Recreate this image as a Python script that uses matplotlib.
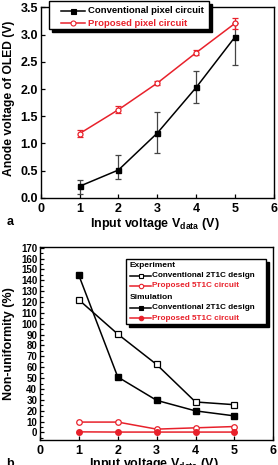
import matplotlib
matplotlib.use('Agg')
import matplotlib.pyplot as plt
from matplotlib.lines import Line2D
from matplotlib.patches import Rectangle
from matplotlib.transforms import Affine2D
from matplotlib.ticker import MultipleLocator, FormatStrFormatter

# ---- data ----
vdata = [1, 2, 3, 4, 5]

# (a) anode voltage of OLED
conv_anode = [0.21, 0.51, 1.19, 2.03, 2.96]
conv_err_low = [0.15, 0.17, 0.37, 0.28, 0.51]
conv_err_high = [0.11, 0.27, 0.38, 0.31, 0.25]
prop_anode = [1.18, 1.62, 2.11, 2.67, 3.21]
prop_err = [0.06, 0.07, 0.03, 0.05, 0.10]

# (b) non-uniformity (%)
exp_conv = [122, 90.5, 62.5, 28, 25.5]
exp_prop = [9.5, 9.5, 3, 4.2, 5.4]
sim_conv = [144.5, 51, 29.5, 19.8, 15.2]
sim_prop = [0.5, 0.3, 0.3, 0.3, 0.3]

RED = '#e8212b'
W, H = 278, 465

plt.rcParams['font.family'] = 'Liberation Sans'
plt.rcParams['font.weight'] = 'bold'
plt.rcParams['mathtext.fontset'] = 'custom'
plt.rcParams['mathtext.rm'] = 'Liberation Sans:bold'
plt.rcParams['mathtext.bf'] = 'Liberation Sans:bold'
plt.rcParams['mathtext.default'] = 'rm'

fig = plt.figure(figsize=(W / 100, H / 100), dpi=100)
# pixel transform (origin top-left) for the hand-made legends
tpx = Affine2D().scale(1 / W, -1 / H).translate(0, 1) + fig.transFigure


def style_axes(ax, ysize, xpad):
    for s in ax.spines.values():
        s.set_linewidth(1.0)
    ax.tick_params(direction='in', length=3, width=0.9, labelsize=9)
    ax.tick_params(axis='x', pad=xpad)
    ax.tick_params(axis='y', labelsize=ysize, pad=2)
    ax.tick_params(which='minor', direction='in', length=1.8, width=0.8)


def draw_legend(ax, box, rows, row_y, hx, tx, fs, hfs, ms):
    x0, y0, x1, y1 = box
    ax.add_patch(Rectangle((x0 + 3, y0 + 3), x1 - x0, y1 - y0, transform=tpx,
                           facecolor='black', edgecolor='black', clip_on=False, zorder=5))
    ax.add_patch(Rectangle((x0, y0), x1 - x0, y1 - y0, transform=tpx, facecolor='white',
                           edgecolor='black', lw=1.0, clip_on=False, zorder=6))
    for (label, st), yy in zip(rows, row_y):
        if st is None:
            ax.text(hx[0], yy, label, transform=tpx, fontsize=hfs, fontweight='bold',
                    ha='left', va='center', zorder=7, clip_on=False)
            continue
        ax.add_line(Line2D(hx, [yy, yy], transform=tpx, color=st['color'], lw=1.1,
                           clip_on=False, zorder=7))
        ax.add_line(Line2D([(hx[0] + hx[1]) / 2], [yy], transform=tpx, color=st['color'],
                           marker=st['marker'], markersize=ms, markerfacecolor=st['mfc'],
                           markeredgewidth=0.8, clip_on=False, zorder=8))
        ax.text(tx, yy, label, transform=tpx, fontsize=fs, fontweight='bold',
                color=st['color'], ha='left', va='center', zorder=7, clip_on=False)


# ---------------- (a) ----------------
ax1 = fig.add_axes([40.7 / W, 1 - 197.7 / H, 233.3 / W, 190.2 / H])
ax1.errorbar(vdata, conv_anode, yerr=[conv_err_low, conv_err_high], color='black',
             ecolor='#444444', elinewidth=0.9, capsize=2, capthick=0.9,
             marker='s', markersize=3.6, lw=1.1)
ax1.errorbar(vdata, prop_anode, yerr=prop_err, color=RED, ecolor=RED,
             elinewidth=0.9, capsize=2, capthick=0.9, marker='o', markersize=3.6,
             markerfacecolor='white', markeredgecolor=RED, markeredgewidth=0.9, lw=1.1)
ax1.set_xlim(0, 6)
ax1.set_ylim(0, 3.5)
ax1.xaxis.set_major_locator(MultipleLocator(1))
ax1.yaxis.set_major_locator(MultipleLocator(0.5))
ax1.yaxis.set_major_formatter(FormatStrFormatter('%.1f'))
style_axes(ax1, 9, 3.9)
ax1.set_ylabel('Anode voltage of OLED (V)', fontsize=8.7, fontweight='bold', va='center')
ax1.yaxis.set_label_coords((9.5 - 40.7) / 233.3, 0.52)
ax1.set_xlabel('Input voltage V$_{data}$ (V)', fontsize=9, fontweight='bold', va='top')
ax1.xaxis.set_label_coords(0.49, -0.094)
fig.text(9.7 / W, 1 - 221.7 / H, 'a', fontsize=9, fontweight='bold', ha='center', va='center')

draw_legend(ax1, (49, 1.3, 209, 29),
            [('Conventional pixel circuit', dict(color='black', marker='s', mfc='black')),
             ('Proposed pixel circuit', dict(color=RED, marker='o', mfc='white'))],
            [10.7, 23.3], [60.7, 85], 87.7, 6.8, 6.8, 3.6)

# ---------------- (b) ----------------
ax2 = fig.add_axes([40 / W, 1 - 440 / H, 233.3 / W, 192.5 / H])
ax2.plot(vdata, exp_conv, color='black', lw=1.1, marker='s', markersize=4,
         markerfacecolor='white', markeredgewidth=0.9)
ax2.plot(vdata, exp_prop, color=RED, lw=1.1, marker='o', markersize=4,
         markerfacecolor='white', markeredgewidth=0.9)
ax2.plot(vdata, sim_conv, color='black', lw=1.1, marker='s', markersize=4)
ax2.plot(vdata, sim_prop, color=RED, lw=1.1, marker='o', markersize=4)
ax2.set_xlim(0, 6)
ax2.set_ylim(-7, 170.2)
ax2.xaxis.set_major_locator(MultipleLocator(1))
ax2.yaxis.set_major_locator(MultipleLocator(10))
ax2.yaxis.set_minor_locator(MultipleLocator(5))
style_axes(ax2, 7, 3.5)
ax2.set_ylabel('Non-uniformity (%)', fontsize=9, fontweight='bold', va='center')
ax2.yaxis.set_label_coords((9.5 - 40) / 233.3, 0.5)
ax2.set_xlabel('Input voltage V$_{data}$ (V)', fontsize=9, fontweight='bold', va='top')
ax2.xaxis.set_label_coords(0.49, -0.085)
fig.text(9.7 / W, 1 - 464 / H, 'b', fontsize=9, fontweight='bold', ha='center', va='center')

draw_legend(ax2, (126, 258.5, 265.7, 324),
            [('Experiment', None),
             ('Conventional 2T1C design', dict(color='black', marker='s', mfc='white')),
             ('Proposed 5T1C circuit', dict(color=RED, marker='o', mfc='white')),
             ('Simulation', None),
             ('Conventional 2T1C design', dict(color='black', marker='s', mfc='black')),
             ('Proposed 5T1C circuit', dict(color=RED, marker='o', mfc=RED))],
            [265.5, 275.5, 285.5, 297, 307.5, 318], [130, 151], 152.5, 5.9, 6.0, 3.2)

fig.savefig('out.png', dpi=100)
